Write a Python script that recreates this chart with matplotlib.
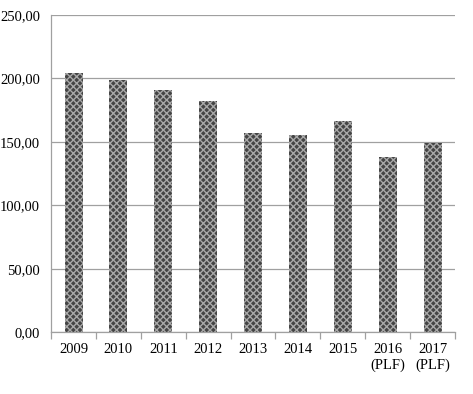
import matplotlib
matplotlib.use("Agg")
import matplotlib.pyplot as plt
import numpy as np

years = ["2009", "2010", "2011", "2012", "2013", "2014", "2015", "2016\n(PLF)", "2017\n(PLF)"]
values = [204.3, 198.7, 190.9, 182.2, 157.0, 155.4, 166.4, 138.0, 149.0]
yticks = [0, 50, 100, 150, 200, 250]

plt.rcParams['font.family'] = ['Liberation Serif', 'DejaVu Serif']
plt.rcParams['hatch.linewidth'] = 1.0

fig = plt.figure(figsize=(4.73, 3.94), dpi=100)
ax = fig.add_axes([0.108, 0.157, 0.854, 0.805])

x = np.arange(len(years))
ax.bar(x, values, width=0.4, color='#444444', edgecolor='#a8a8a8', hatch='xxxxx', linewidth=0, zorder=3)

ax.set_ylim(0, 250)
ax.set_xlim(-0.5, len(years) - 0.5)
ax.set_yticks(yticks)
ax.set_yticklabels([f"{v:.2f}".replace('.', ',') for v in yticks], fontsize=10.5)
ax.yaxis.grid(True, color='#a0a0a0', linewidth=0.9, zorder=0)
ax.tick_params(axis='y', length=0, pad=8)

ax.set_xticks(x)
ax.set_xticklabels(years, fontsize=10.5, linespacing=1.25)
ax.tick_params(axis='x', which='major', length=0, pad=8)
ax.set_xticks(np.arange(-0.5, len(years)), minor=True)
ax.tick_params(axis='x', which='minor', length=5, color='#a0a0a0', width=0.9)

for s in ['top', 'right']:
    ax.spines[s].set_visible(False)
for s in ['left', 'bottom']:
    ax.spines[s].set_color('#a0a0a0')
    ax.spines[s].set_linewidth(0.9)

fig.savefig("out.png", dpi=100)
